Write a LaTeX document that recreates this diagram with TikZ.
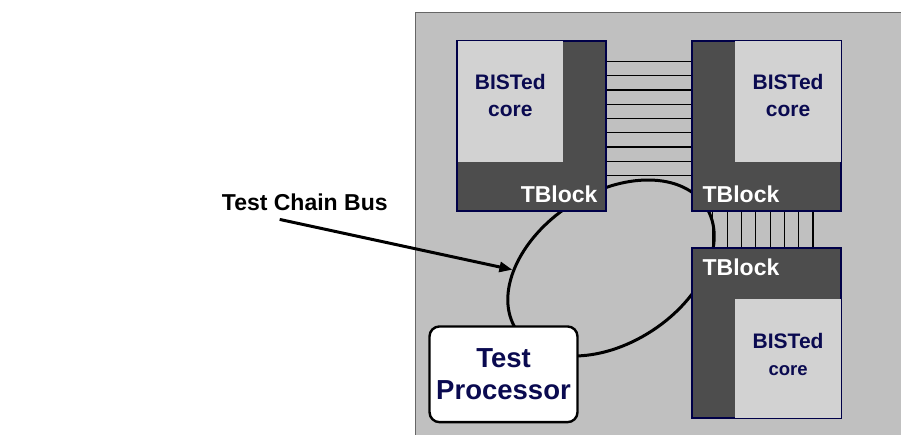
\documentclass[tikz,border=0pt]{standalone}
\usepackage{fontspec}
\setmainfont{Liberation Sans}
\usetikzlibrary{shapes.geometric,arrows.meta}
\definecolor{chipgray}{RGB}{192,192,192}
\definecolor{blkgray}{RGB}{77,77,77}
\definecolor{coregray}{RGB}{210,210,210}
\definecolor{navy}{RGB}{0,0,72}
\definecolor{inknavy}{RGB}{10,10,80}
\begin{document}
\begin{tikzpicture}[x=1pt,y=-1pt,
    tblk/.style={draw=navy,fill=blkgray,line width=1.8pt,minimum width=148.7pt,minimum height=169.7pt,inner sep=0pt},
    corebox/.style={fill=coregray,minimum width=105.5pt,minimum height=121pt,inner sep=0pt},
    coretxt/.style={text=inknavy,align=center,inner sep=0pt,font=\bfseries\fontsize{21}{27}\selectfont},
    tbtxt/.style={text=white,inner sep=0pt,font=\bfseries\fontsize{23}{27}\selectfont},
    wire/.style={line width=1.1pt}]
  \useasboundingbox (0,0) rectangle (901,434);
  \clip (0,0) rectangle (901,434);
  \fill[white] (0,0) rectangle (901,434);
  \draw[gray!80!black,line width=1pt,fill=chipgray] (415.5,12.5) rectangle (910,440);
  % the bus ring
  \node[draw,ellipse,line width=3pt,minimum width=226pt,minimum height=150pt,rotate=33] (bus) at (611,268) {};
  % blocks with their cores
  \node[tblk] (tlblk) at (531.7,125.9) {};
  \node[tblk] (trblk) at (766.7,125.9) {};
  \node[tblk,minimum height=170pt] (brblk) at (766.7,332.7) {};
  \node[corebox,anchor=north west] (tlcore) at ([shift={(0.9pt,-0.9pt)}]tlblk.north west) {};
  \node[corebox,anchor=north east] (trcore) at ([shift={(-0.9pt,-0.9pt)}]trblk.north east) {};
  \node[corebox,anchor=south east,minimum height=119pt] (brcore) at ([shift={(-0.9pt,0.9pt)}]brblk.south east) {};
  \node[coretxt] (tltxt) at ([yshift=6pt]tlcore.center) {BISTed\\core};
  \node[coretxt] (trtxt) at ([yshift=6pt]trcore.center) {BISTed\\core};
  \node[coretxt] (brtxt) at ([yshift=4pt]brcore.center) {BISTed\\\fontsize{18.5}{25}\selectfont core};
  \node[tbtxt,anchor=base east] (tltag) at ([shift={(-9.3pt,9pt)}]tlblk.south east) {TBlock};
  \node[tbtxt,anchor=base west] (trtag) at ([shift={(11pt,9pt)}]trblk.south west) {TBlock};
  \node[tbtxt,anchor=base west] (brtag) at ([shift={(11pt,-29pt)}]brblk.north west) {TBlock};
  % wires between blocks
  \foreach \k [evaluate=\k as \off using 21.3+14.25*\k] in {0,...,8}
    \draw[wire] ([yshift=-\off pt]tlblk.north east) -- ([yshift=-\off pt]trblk.north west);
  \foreach \k [evaluate=\k as \off using 21.4+14.3*\k] in {0,...,7}
    \draw[wire] ([xshift=\off pt]trblk.south west) -- ([xshift=\off pt]brblk.north west);
  \node[draw,fill=white,rounded corners=10pt,line width=2.4pt,minimum width=148pt,minimum height=95.7pt,
    text=inknavy,align=center,font=\bfseries\fontsize{27.5}{31.7}\selectfont] (proc) at (503.5,374.3) {Test\\Processor};
  \node[anchor=base west,inner sep=0pt,font=\bfseries\fontsize{23}{27}\selectfont] (buslbl) at (221.7,210) {Test Chain Bus};
  \draw[line width=3pt,-{Triangle[length=13pt,width=10pt]}] ([shift={(58pt,-9pt)}]buslbl.south west) -- (bus.148);
\end{tikzpicture}
\end{document}
